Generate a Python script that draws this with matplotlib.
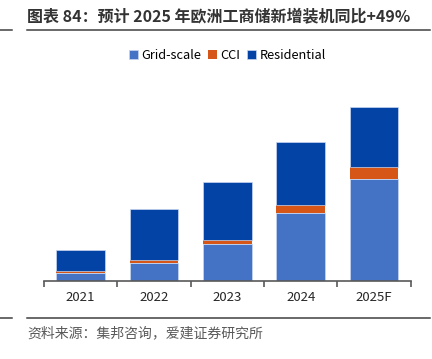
import numpy as np
import matplotlib.pyplot as plt
from matplotlib.lines import Line2D

plt.rcParams['font.family'] = ['Noto Sans CJK SC', 'DejaVu Sans']

# data (approx.)
years = ["2021", "2022", "2023", "2024", "2025F"]
grid_scale = [0.77, 1.80, 3.67, 6.80, 10.20]
cci = [0.23, 0.33, 0.46, 0.80, 1.17]
residential = [2.13, 5.04, 5.80, 6.27, 6.03]

c_grid = "#4472C4"
c_cci = "#D55617"
c_res = "#0343A6"

fig = plt.figure(figsize=(4.32, 3.59), dpi=100)
W, H = 432, 359

# axes placed in pixel terms: x 44..410.7, baseline at y=281
ax = fig.add_axes([44 / W, 1 - 281 / H, (410.7 - 44) / W, (281 - 70) / H])

x = np.arange(len(years))
g = np.array(grid_scale)
c = np.array(cci)
r = np.array(residential)
bw = 0.66
ax.bar(x, g, bw, color=c_grid, label="Grid-scale", edgecolor="#c9d6f0", linewidth=0.5)
ax.bar(x, c, bw, bottom=g, color=c_cci, label="CCI", linewidth=0)
ax.bar(x, r, bw, bottom=g + c, color=c_res, label="Residential", edgecolor="#c9d6f0", linewidth=0.5)

ax.set_xlim(-0.5, len(years) - 0.5)
ax.set_ylim(0, 21.1)
ax.set_yticks([])
for s in ["top", "right", "left"]:
    ax.spines[s].set_visible(False)
ax.spines["bottom"].set_color("#595959")
ax.spines["bottom"].set_linewidth(1.2)

ax.set_xticks(x)
ax.set_xticklabels(years, fontsize=9.5, color="#262626")
ax.tick_params(axis="x", which="major", length=0, pad=7)
ax.set_xticks(np.arange(-0.5, len(years), 1), minor=True)
ax.tick_params(axis="x", which="minor", length=4, width=1.2, color="#595959", direction="out")

ax.legend(loc="upper center", bbox_to_anchor=(0.5, (281 - 44) / (281 - 70)), ncol=3,
          frameon=False, fontsize=9.2, handlelength=0.7, handleheight=0.7,
          handletextpad=0.3, columnspacing=0.5, borderaxespad=0)

# title and source
fig.text(27 / W, 1 - 16 / H, "图表 84：预计 2025 年欧洲工商储新增装机同比+49%",
         fontsize=11.5, fontweight="bold", color="#333333", va="center", ha="left")
fig.text(27 / W, 1 - 333 / H, "资料来源：集邦咨询，爱建证券研究所",
         fontsize=10, color="#595959", va="center", ha="left")

for y in (30, 318):
    yy = 1 - y / H
    fig.add_artist(Line2D([27 / W, 430 / W], [yy, yy], color="#404040", linewidth=1.1))
    fig.add_artist(Line2D([0, 12 / W], [yy, yy], color="#404040", linewidth=1.1))

fig.savefig("out.png", dpi=100)
